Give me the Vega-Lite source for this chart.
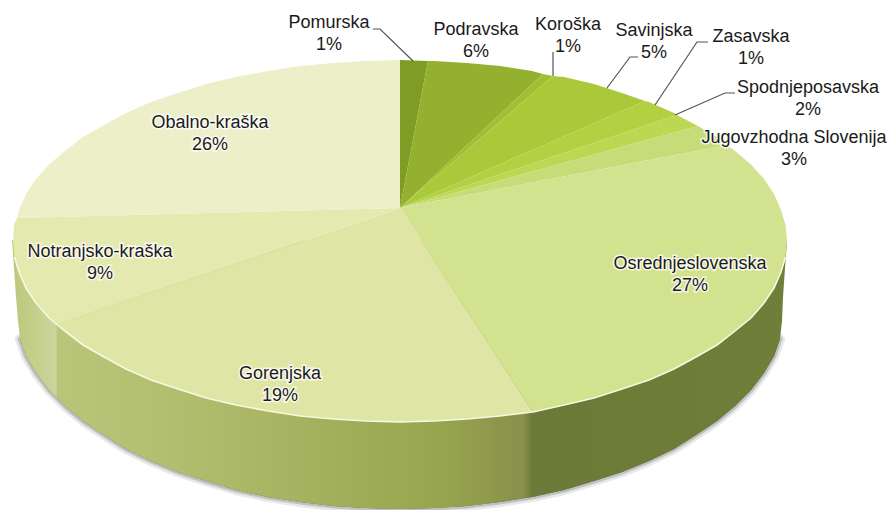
{"$schema":"https://vega.github.io/schema/vega-lite/v6.json","width":888,"height":510,"padding":0,"autosize":{"type":"fit","contains":"padding"},"background":"white","view":{"stroke":null},"config":{"font":"Liberation Sans"},"projection":{"type":"identity","scale":1,"translate":[400,208]},"datasets":{"wallShadow":[{"type":"Feature","part":"wall","geometry":{"type":"Polygon","coordinates":[[[380,131],[374,148],[364,165],[351,182],[335,198],[317,213],[296,227],[274,241],[249,253],[222,264],[194,273],[164,282],[132,289],[100,294],[67,298],[34,300],[0,301],[-34,300],[-67,298],[-100,294],[-132,289],[-164,282],[-194,273],[-222,264],[-249,253],[-274,241],[-296,227],[-317,213],[-335,198],[-351,182],[-364,165],[-374,148],[-380,131],[380,131]]]}}]},"layer":[
{"data":{"name":"wallShadow"},"mark":{"type":"geoshape","fill":"#888888","stroke":"#666666","strokeOpacity":0.15,"strokeWidth":10,"strokeJoin":"round"}},
{"data":{"name":"wallShadow"},"mark":{"type":"geoshape","fill":"#888888","stroke":"#666666","strokeOpacity":0.3,"strokeWidth":5,"strokeJoin":"round"}},
{"data":{"values":[{"type":"Feature","part":"wall","geometry":{"type":"Polygon","coordinates":[[[387,33],[385,60],[383,89],[382,113],[380,131],[374,148],[364,165],[351,182],[335,198],[317,213],[296,227],[274,241],[249,253],[222,264],[194,273],[164,282],[132,289],[100,294],[67,298],[34,300],[0,301],[-34,300],[-67,298],[-100,294],[-132,289],[-164,282],[-194,273],[-222,264],[-249,253],[-274,241],[-296,227],[-317,213],[-335,198],[-351,182],[-364,165],[-374,148],[-380,131],[-382,113],[-384,89],[-386,60],[-388,32],[387,33]]]}}]},"mark":{"type":"geoshape","strokeWidth":0,"fill":{"gradient":"linear","x1":0,"y1":0,"x2":1,"y2":0,"stops":[{"offset":0,"color":"#bcc87a"},{"offset":0.057,"color":"#ccd59b"},{"offset":0.058,"color":"#b9c67a"},{"offset":0.2,"color":"#b2bf70"},{"offset":0.4,"color":"#a3b05c"},{"offset":0.55,"color":"#97a64e"},{"offset":0.66,"color":"#8a8f4c"},{"offset":0.671,"color":"#6b7a36"},{"offset":1,"color":"#6f7e38"}]}}},
{"data":{"values":[
{"type":"Feature","region":"Pomurska","share":1,"geometry":{"type":"Polygon","coordinates":[[[0,0],[0,-148],[28,-147],[0,0]]]}},
{"type":"Feature","region":"Podravska","share":6,"geometry":{"type":"Polygon","coordinates":[[[0,0],[28,-147],[34,-147],[67,-145],[100,-142],[132,-137],[143,-134],[0,0]]]}},
{"type":"Feature","region":"Koroška","share":1,"geometry":{"type":"Polygon","coordinates":[[[0,0],[143,-134],[153,-132],[0,0]]]}},
{"type":"Feature","region":"Savinjska","share":5,"geometry":{"type":"Polygon","coordinates":[[[0,0],[153,-132],[164,-131],[194,-124],[222,-115],[245,-107],[0,0]]]}},
{"type":"Feature","region":"Zasavska","share":1,"geometry":{"type":"Polygon","coordinates":[[[0,0],[245,-107],[249,-106],[274,-95],[277,-93],[0,0]]]}},
{"type":"Feature","region":"Spodnjeposavska","share":2,"geometry":{"type":"Polygon","coordinates":[[[0,0],[277,-93],[296,-83],[298,-82],[0,0]]]}},
{"type":"Feature","region":"Jugovzhodna Slovenija","share":3,"geometry":{"type":"Polygon","coordinates":[[[0,0],[298,-82],[317,-71],[327,-63],[0,0]]]}},
{"type":"Feature","region":"Osrednjeslovenska","share":27,"geometry":{"type":"Polygon","coordinates":[[[0,0],[327,-63],[335,-57],[351,-43.5],[364,-29],[374,-14],[381,2],[385.5,17],[387,33],[385.5,49],[381,64],[374,80],[364,95],[351,110],[335,123],[317,137],[296,149],[274,161],[249,172],[222,181],[194,190],[164,197],[133,204],[0,0]]]}},
{"type":"Feature","region":"Gorenjska","share":19,"geometry":{"type":"Polygon","coordinates":[[[0,0],[133,204],[100,208],[67,211],[34,213],[0,214],[-34,213],[-67,211],[-100,208],[-132,203],[-164,197],[-194,190],[-222,181],[-249,172],[-274,161],[-296,149],[-317,137],[-335,123],[-342,116],[0,0]]]}},
{"type":"Feature","region":"Notranjsko-kraška","share":9,"geometry":{"type":"Polygon","coordinates":[[[0,0],[-342,116],[-351,110],[-364,95],[-374,80],[-381,64],[-385.5,49],[-387,33],[-386,17],[-383,10],[0,0]]]}},
{"type":"Feature","region":"Obalno-kraška","share":26,"geometry":{"type":"Polygon","coordinates":[[[0,0],[-383,10],[-381,2],[-374,-14],[-364,-29],[-351,-43.5],[-335,-57],[-317,-71],[-296,-83],[-274,-95],[-249,-106],[-222,-115],[-194,-124],[-164,-131],[-132,-137],[-100,-142],[-67,-145],[-34,-147],[0,-148],[0,0]]]}}
]},"mark":{"type":"geoshape","strokeWidth":0},"encoding":{"color":{"field":"region","type":"nominal","legend":null,"scale":{"domain":["Pomurska","Podravska","Koroška","Savinjska","Zasavska","Spodnjeposavska","Jugovzhodna Slovenija","Osrednjeslovenska","Gorenjska","Notranjsko-kraška","Obalno-kraška"],"range":["#7f9c24","#93b02e","#a2bf32","#aac93a","#b3d042","#bcd852","#c6dc78","#d3e28e","#dfe6a5","#e4e9b0","#ecefc8"]}}}},
{"data":{"values":[{"type":"Feature","part":"rim","geometry":{"type":"LineString","coordinates":[[385.5,49],[381,64],[374,80],[364,95],[351,110],[335,123],[317,137],[296,149],[274,161],[249,172],[222,181],[194,190],[164,197],[133,204],[100,208],[67,211],[34,213],[0,214],[-34,213],[-67,211],[-100,208],[-132,203],[-164,197],[-194,190],[-222,181],[-249,172],[-274,161],[-296,149],[-317,137],[-335,123],[-351,110],[-364,95],[-374,80],[-381,64],[-385.5,49]]}}]},"mark":{"type":"geoshape","filled":false,"stroke":"#f6f8e0","strokeWidth":1.6}},
{"data":{"values":[
{"type":"Feature","leader":"Pomurska","geometry":{"type":"LineString","coordinates":[[-27,-179],[-20,-179],[13,-147]]}},
{"type":"Feature","leader":"Koroška","geometry":{"type":"LineString","coordinates":[[153,-156],[153,-132]]}},
{"type":"Feature","leader":"Savinjska","geometry":{"type":"LineString","coordinates":[[238,-151],[230,-151],[207,-120]]}},
{"type":"Feature","leader":"Zasavska","geometry":{"type":"LineString","coordinates":[[308,-166],[297,-166],[255,-103]]}},
{"type":"Feature","leader":"Spodnjeposavska","geometry":{"type":"LineString","coordinates":[[335,-115],[325,-115],[275,-93]]}}
]},"mark":{"type":"geoshape","filled":false,"stroke":"#555555","strokeWidth":1.2}},
{"data":{"name":"labels","values":[
{"label":"Pomurska\n1%","lx":-71,"ly":-185},
{"label":"Podravska\n6%","lx":76,"ly":-178},
{"label":"Koroška\n1%","lx":168,"ly":-183},
{"label":"Savinjska\n5%","lx":254,"ly":-177},
{"label":"Zasavska\n1%","lx":351,"ly":-171},
{"label":"Spodnjeposavska\n2%","lx":408,"ly":-120},
{"label":"Jugovzhodna Slovenija\n3%","lx":394,"ly":-70},
{"label":"Osrednjeslovenska\n27%","lx":290,"ly":56},
{"label":"Gorenjska\n19%","lx":-120,"ly":166},
{"label":"Notranjsko-kraška\n9%","lx":-300,"ly":44},
{"label":"Obalno-kraška\n26%","lx":-190,"ly":-85}
]},"mark":{"type":"text","fontSize":18,"lineBreak":"\n","lineHeight":21.5,"align":"center","baseline":"middle","stroke":"#ffffff","strokeWidth":3,"strokeOpacity":0.75,"fill":"#ffffff"},"encoding":{"longitude":{"field":"lx","type":"quantitative"},"latitude":{"field":"ly","type":"quantitative"},"text":{"field":"label"}}},
{"data":{"name":"labels"},"mark":{"type":"text","fontSize":18,"lineBreak":"\n","lineHeight":21.5,"align":"center","baseline":"middle","fill":"#1a1a1a"},"encoding":{"longitude":{"field":"lx","type":"quantitative"},"latitude":{"field":"ly","type":"quantitative"},"text":{"field":"label"}}}
]}
